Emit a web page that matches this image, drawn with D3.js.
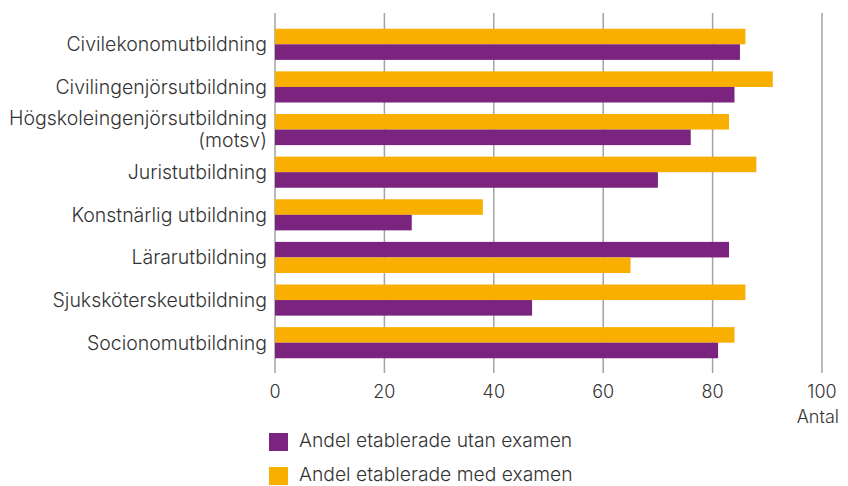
<!DOCTYPE html>
<html>
<head>
<meta charset="utf-8">
<script src="https://cdn.jsdelivr.net/npm/d3@7"></script>
<style>
    body { margin: 0; background: #fff; }
    text { font-family: Inter, "Open Sans", sans-serif; font-weight: 300; fill: #333; }
</style>
</head>
<body>
<div id="chart"></div>
<script>
// Data
const categories = [
    "Civilekonomutbildning",
    "Civilingenjörsutbildning",
    "Högskoleingenjörsutbildning\n(motsv)",
    "Juristutbildning",
    "Konstnärlig utbildning",
    "Lärarutbildning",
    "Sjuksköterskeutbildning",
    "Socionomutbildning"
];
const utanExamen = [85, 84, 76, 70, 25, 83, 47, 81];
const medExamen = [86, 91, 83, 88, 38, 65, 86, 84];
// categories where the purple bar sits on top
const utanOnTop = ["Lärarutbildning"];
const xTicks = [0, 20, 40, 60, 80, 100];
const seriesNames = ["Andel etablerade utan examen", "Andel etablerade med examen"];
const colors = ["#7a237f", "#f9af00"];

let width = 848, height = 486;

let svg = d3.select("#chart").append("svg")
    .attr("width", width)
    .attr("height", height);

let x = d3.scaleLinear()
    .domain([0, 100])
    .range([275, 822]);

let y = d3.scaleBand()
    .domain(categories)
    .range([23, 364])
    .paddingInner(0.27)
    .paddingOuter(0.135);

// gridlines
svg.append("g")
    .selectAll("line")
    .data(xTicks)
    .join("line")
    .attr("x1", d => x(d))
    .attr("x2", d => x(d))
    .attr("y1", 13)
    .attr("y2", 373)
    .attr("stroke", "#a3a3a3")
    .attr("stroke-width", 1.5);

// tick labels
svg.append("g")
    .selectAll("text")
    .data(xTicks)
    .join("text")
    .attr("x", d => x(d))
    .attr("y", 398)
    .attr("text-anchor", "middle")
    .style("font-size", "18px")
    .text(d => d);

svg.append("text")
    .attr("x", 839)
    .attr("y", 423)
    .attr("text-anchor", "end")
    .style("font-size", "18px")
    .text("Antal");

// bars
let half = y.bandwidth() / 2;
let rows = categories.map((c, i) => ({
    cat: c,
    utan: utanExamen[i],
    med: medExamen[i],
    swap: utanOnTop.includes(c)
}));

let g = svg.append("g");
rows.forEach(r => {
    let topVal = r.swap ? r.utan : r.med;
    let botVal = r.swap ? r.med : r.utan;
    let topCol = r.swap ? colors[0] : colors[1];
    let botCol = r.swap ? colors[1] : colors[0];
    g.append("rect")
        .attr("x", x(0))
        .attr("y", y(r.cat))
        .attr("width", x(topVal) - x(0))
        .attr("height", half)
        .attr("fill", topCol);
    g.append("rect")
        .attr("x", x(0))
        .attr("y", y(r.cat) + half)
        .attr("width", x(botVal) - x(0))
        .attr("height", half)
        .attr("fill", botCol);
});

// category labels
let labels = svg.append("g")
    .selectAll("text")
    .data(categories)
    .join("text")
    .attr("text-anchor", "end")
    .style("font-size", "19.5px")
    .attr("y", d => y(d) + half);

labels.each(function (d) {
    let lines = d.split("\n");
    let t = d3.select(this);
    lines.forEach((line, i) => {
        t.append("tspan")
            .attr("x", 267)
            .attr("y", y(d) + half + (i - (lines.length - 1) / 2) * 22)
            .attr("dy", "0.35em")
            .text(line);
    });
});

// legend
let legend = svg.append("g")
    .selectAll("g")
    .data(seriesNames)
    .join("g")
    .attr("transform", (d, i) => "translate(269," + (433 + i * 34) + ")");

legend.append("rect")
    .attr("width", 19)
    .attr("height", 18)
    .attr("fill", (d, i) => colors[i]);

legend.append("text")
    .attr("x", 30)
    .attr("y", 14)
    .style("font-size", "19.3px")
    .text(d => d);
</script>
</body>
</html>
